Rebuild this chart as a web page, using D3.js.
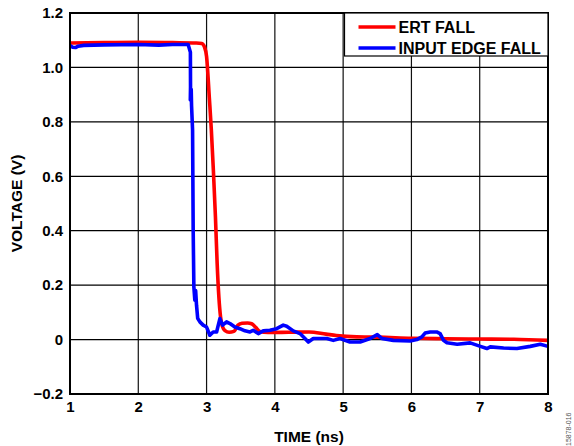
<!DOCTYPE html>
<html>
<head>
<meta charset="utf-8">
<script src="https://cdn.jsdelivr.net/npm/d3@7"></script>
<style>
  body { margin: 0; background: #fff; }
  svg { display: block; font-family: "Liberation Sans", Arial, sans-serif; }
</style>
</head>
<body>
<svg width="574" height="446"></svg>
<script>
// time (ns) / voltage (V)
const ertTime = [1.0, 1.5, 2.0, 2.5, 2.85, 2.93, 2.97, 3.0, 3.04, 3.07, 3.10, 3.13, 3.155, 3.18, 3.205,
    3.23, 3.27, 3.33, 3.40, 3.46, 3.52, 3.60, 3.66, 3.72, 3.78, 3.9, 4.2, 4.5, 4.75, 4.9, 5.2, 5.5,
    6.0, 6.5, 7.0, 7.5, 8.0];
const ertVolt = [1.09, 1.091, 1.092, 1.091, 1.09, 1.088, 1.075, 1.04, 0.89, 0.77, 0.62, 0.45, 0.28, 0.157, 0.083,
    0.05, 0.033, 0.027, 0.03, 0.053, 0.06, 0.061, 0.058, 0.045, 0.03, 0.026, 0.027, 0.028, 0.02, 0.015, 0.01, 0.009,
    0.005, 0.003, 0.002, 0.001, -0.003];

const inTime = [1.0, 1.04, 1.08, 1.12, 1.2, 1.5, 2.0, 2.3, 2.5, 2.73, 2.763, 2.765, 2.762, 2.775, 2.78,
    2.795, 2.804, 2.814, 2.828, 2.84, 2.853, 2.87, 2.902, 2.95, 3.0, 3.048, 3.097, 3.147, 3.195, 3.235,
    3.293, 3.342, 3.415, 3.488, 3.562, 3.635, 3.683, 3.757, 3.83, 3.928, 4.026, 4.123, 4.173, 4.27, 4.368,
    4.441, 4.49, 4.563, 4.76, 4.856, 4.955, 5.1, 5.248, 5.395, 5.5, 5.566, 5.736, 5.981, 6.079, 6.153,
    6.2, 6.275, 6.37, 6.42, 6.47, 6.52, 6.67, 6.86, 7.01, 7.105, 7.154, 7.35, 7.545, 7.74, 7.887, 8.0];
const inVolt = [1.08, 1.074, 1.073, 1.078, 1.081, 1.083, 1.084, 1.082, 1.084, 1.084, 1.056, 0.93, 0.88, 0.92, 0.86,
    0.77, 0.40, 0.193, 0.145, 0.18, 0.126, 0.078, 0.065, 0.053, 0.046, 0.016, 0.028, 0.028, 0.077, 0.053,
    0.065, 0.059, 0.046, 0.04, 0.032, 0.028, 0.034, 0.022, 0.032, 0.034, 0.04, 0.053, 0.049, 0.032, 0.022,
    0.004, -0.009, 0.004, 0.004, -0.003, 0.004, -0.009, -0.009, 0.004, 0.018, 0.004, -0.003, -0.005, 0, 0.01,
    0.024, 0.028, 0.028, 0.022, -0.003, -0.012, -0.017, -0.012, -0.025, -0.033, -0.027, -0.031, -0.033, -0.025, -0.017, -0.025];

const xTicks = [1, 2, 3, 4, 5, 6, 7, 8];
const yTicks = [-0.2, 0, 0.2, 0.4, 0.6, 0.8, 1.0, 1.2];
const seriesNames = ["ERT FALL", "INPUT EDGE FALL"];
const seriesColors = ["#ff0000", "#0000ff"];

const svg = d3.select("svg");
const margin = {top: 13, left: 70, right: 26, bottom: 52};
const width = 574 - margin.left - margin.right,
    height = 446 - margin.top - margin.bottom;

const x = d3.scaleLinear().domain([1, 8]).range([0, width]);
const y = d3.scaleLinear().domain([-0.2, 1.2]).range([height, 0]);

const g = svg.append("g").attr("transform", "translate(" + margin.left + "," + margin.top + ")");

// grid
g.append("g")
    .selectAll("line")
    .data(xTicks)
    .enter()
    .append("line")
    .attr("x1", d => x(d)).attr("x2", d => x(d))
    .attr("y1", 0).attr("y2", height)
    .attr("stroke", "#111").attr("stroke-width", 1.2);
g.append("g")
    .selectAll("line")
    .data(yTicks)
    .enter()
    .append("line")
    .attr("x1", 0).attr("x2", width)
    .attr("y1", d => y(d)).attr("y2", d => y(d))
    .attr("stroke", "#000").attr("stroke-width", 1.2);

// axes (labels only)
const fmtY = d => d === 0 ? "0" : (d < 0 ? "\u2212" + Math.abs(d).toFixed(1) : d.toFixed(1));
const yaxis = g.append("g")
    .call(d3.axisLeft(y).tickValues(yTicks).tickFormat(fmtY).tickSize(0).tickPadding(7));
const xaxis = g.append("g")
    .attr("transform", "translate(0," + height + ")")
    .call(d3.axisBottom(x).tickValues(xTicks).tickFormat(d3.format("d")).tickSize(0).tickPadding(7));
[yaxis, xaxis].forEach(a => {
    a.select(".domain").remove();
    a.selectAll("text")
        .attr("font-family", "Liberation Sans, Arial, sans-serif")
        .attr("font-size", 15).attr("font-weight", "bold").attr("fill", "#000");
});

// lines
const line = d3.line().x(d => x(d[0])).y(d => y(d[1])).curve(d3.curveMonotoneX);
const ertData = d3.zip(ertTime, ertVolt);
const inData = d3.zip(inTime, inVolt);
g.append("path").datum(ertData)
    .attr("d", line).attr("fill", "none")
    .attr("stroke", seriesColors[0]).attr("stroke-width", 3.6).attr("stroke-linejoin", "round");
g.append("path").datum(inData)
    .attr("d", d3.line().x(d => x(d[0])).y(d => y(d[1])))
    .attr("fill", "none")
    .attr("stroke", seriesColors[1]).attr("stroke-width", 3.6).attr("stroke-linejoin", "round");

// frame
g.append("rect")
    .attr("x", 0).attr("y", 0).attr("width", width).attr("height", height)
    .attr("fill", "none").attr("stroke", "#000").attr("stroke-width", 2);

// legend
const leg = g.append("g").attr("transform", "translate(" + (x(5.02) ) + ",0)");
leg.append("rect")
    .attr("x", 0).attr("y", 0).attr("width", width - x(5.02)).attr("height", 43)
    .attr("fill", "#fff").attr("stroke", "#000").attr("stroke-width", 1.2);
seriesNames.forEach((name, i) => {
    const ly = 14 + i * 21;
    leg.append("line")
        .attr("x1", 14).attr("x2", 51).attr("y1", ly).attr("y2", ly)
        .attr("stroke", seriesColors[i]).attr("stroke-width", 3.4);
    leg.append("text")
        .attr("x", 54).attr("y", ly + 6)
        .attr("font-size", 16).attr("font-weight", "bold")
        .text(name);
});

// axis titles
svg.append("text")
    .attr("x", margin.left + width / 2).attr("y", 442)
    .attr("text-anchor", "middle")
    .attr("font-size", 15.5).attr("font-weight", "bold")
    .text("TIME (ns)");
svg.append("text")
    .attr("transform", "translate(22," + (margin.top + height / 2) + ") rotate(-90)")
    .attr("text-anchor", "middle")
    .attr("font-size", 15.5).attr("font-weight", "bold")
    .text("VOLTAGE (V)");

// figure id
svg.append("text")
    .attr("transform", "translate(571,446) rotate(-90)")
    .attr("font-size", 7).attr("fill", "#555")
    .text("15878-016");
</script>
</body>
</html>
